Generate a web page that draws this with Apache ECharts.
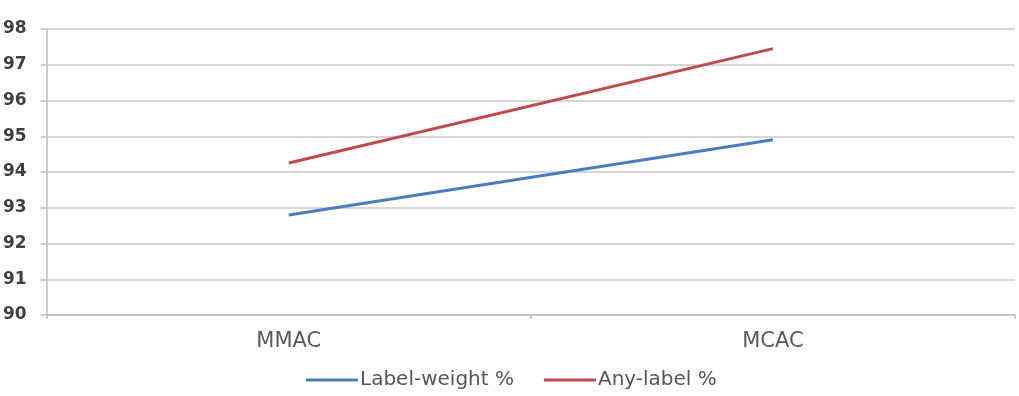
<!DOCTYPE html>
<html><head><meta charset="utf-8">
<script src="https://cdn.jsdelivr.net/npm/echarts@6/dist/echarts.min.js"></script>
<style>html,body{margin:0;padding:0;background:#fff}#c{width:1019px;height:396px}</style>
</head><body><div id="c"></div>
<script>
var categories = ['MMAC', 'MCAC'];
var labelWeight = [92.8, 94.9];
var anyLabel = [94.25, 97.45];
var seriesNames = ['Label-weight %', 'Any-label %'];
var yMin = 90, yMax = 98, yStep = 1;

var chart = echarts.init(document.getElementById('c'));
chart.setOption({
  animation: false,
  backgroundColor: '#fff',
  grid: {left: 42, right: 4, top: 29, bottom: 81, containLabel: false},
  legend: {
    data: seriesNames, bottom: 1, left: 301, itemWidth: 52, itemHeight: 14, itemGap: 30,
    icon: 'path://M0,6 L52,6 L52,9 L0,9 Z',
    textStyle: {fontFamily: 'DejaVu Sans', fontSize: 20, color: '#555', padding: [0,0,0,-3]}
  },
  xAxis: {
    type: 'category', data: categories, boundaryGap: true,
    axisLine: {lineStyle: {color: '#bfbfbf', width: 1.5}},
    axisTick: {show: true, length: 4, lineStyle: {color: '#bfbfbf', width: 1.5}},
    axisLabel: {fontFamily: 'DejaVu Sans', fontSize: 21, color: '#595959', margin: 16}
  },
  yAxis: {
    type: 'value', min: yMin, max: yMax, interval: yStep,
    axisLine: {show: true, lineStyle: {color: '#bfbfbf', width: 1.5}},
    axisTick: {show: true, length: 6, lineStyle: {color: '#bfbfbf', width: 1.5}},
    splitLine: {lineStyle: {color: '#c8c8c8', width: 1.5}},
    axisLabel: {fontFamily: 'DejaVu Sans', fontWeight: 'bold', fontSize: 17, color: '#404040', margin: 20}
  },
  series: [
    {name: seriesNames[0], type: 'line', data: labelWeight, symbol: 'none', lineStyle: {color: '#4A7EBB', width: 3}, itemStyle: {color: '#4A7EBB'}},
    {name: seriesNames[1], type: 'line', data: anyLabel, symbol: 'none', lineStyle: {color: '#BE4B48', width: 3}, itemStyle: {color: '#BE4B48'}}
  ]
});
</script></body></html>
